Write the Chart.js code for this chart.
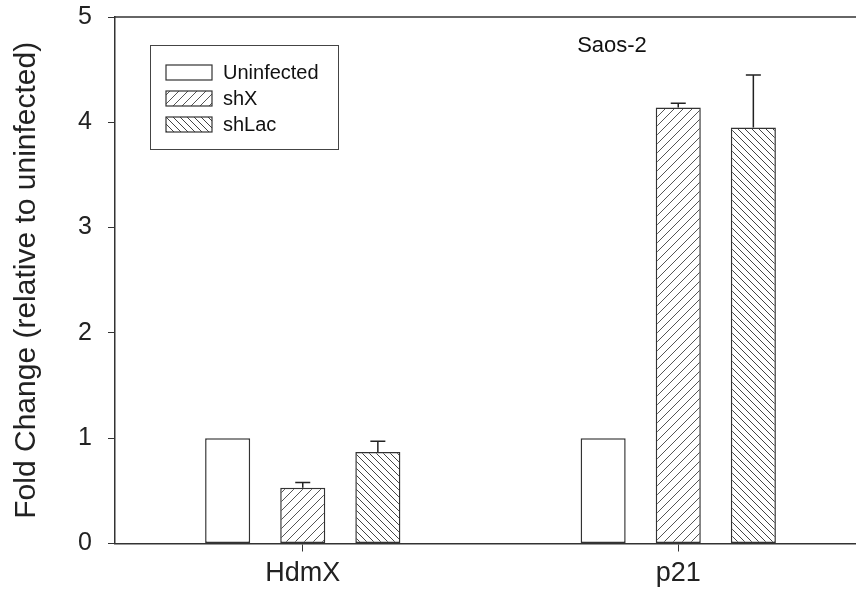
<!DOCTYPE html>
<html>
<head>
<meta charset="utf-8">
<script src="https://cdn.jsdelivr.net/npm/chart.js@4.4.1/dist/chart.umd.min.js"></script>
<style>
  html, body { margin: 0; padding: 0; background: #fff; overflow: hidden; }
  #wrap { width: 880px; height: 605px; position: relative; }
</style>
</head>
<body>
<div id="wrap"><canvas id="c" width="880" height="605"></canvas></div>
<script>
// ---- data ----
const categories = ['HdmX', 'p21'];
const seriesNames = ['Uninfected', 'shX', 'shLac'];
const uninfected = [1.0, 1.0];
const shX = [0.53, 4.14];
const shLac = [0.87, 3.95];
const uninfectedErr = [0, 0];
const shXErr = [0.05, 0.04];
const shLacErr = [0.10, 0.50];
const yTicks = [0, 1, 2, 3, 4, 5];
const panelTitle = 'Saos-2';
const yTitle = 'Fold Change (relative to uninfected)';

const FONT = '"Liberation Sans", Arial, Helvetica, sans-serif';
const INK = '#222';

function hatch(dir, period, color) {
  const c = document.createElement('canvas');
  c.width = period; c.height = period;
  const g = c.getContext('2d');
  g.fillStyle = '#fff';
  g.fillRect(0, 0, period, period);
  g.strokeStyle = color;
  g.lineWidth = 1;
  g.beginPath();
  if (dir === '/') {
    for (let k = -1; k <= 1; k++) {
      g.moveTo(k * period, period);
      g.lineTo(k * period + period, 0);
    }
  } else {
    for (let k = -1; k <= 1; k++) {
      g.moveTo(k * period, 0);
      g.lineTo(k * period + period, period);
    }
  }
  g.stroke();
  return g.createPattern(c, 'repeat');
}

const ctx = document.getElementById('c').getContext('2d');
const patX = hatch('/', 9, '#555');
const patL = hatch('\\', 7, '#444');

const errs = [uninfectedErr, shXErr, shLacErr];

const errorBarPlugin = {
  id: 'errbars',
  afterDatasetsDraw(chart) {
    const g = chart.ctx;
    const ys = chart.scales.y;
    g.save();
    g.strokeStyle = '#222';
    g.lineWidth = 1.5;
    chart.data.datasets.forEach((ds, i) => {
      const meta = chart.getDatasetMeta(i);
      meta.data.forEach((el, j) => {
        const e = errs[i][j];
        if (!e) return;
        const v = ds.data[j];
        const yTop = ys.getPixelForValue(v + e);
        const x = el.x;
        g.beginPath();
        g.moveTo(x, el.y);
        g.lineTo(x, yTop);
        g.moveTo(x - 7.5, yTop);
        g.lineTo(x + 7.5, yTop);
        g.stroke();
      });
    });
    g.restore();
  }
};

const framePlugin = {
  id: 'frame',
  afterDraw(chart) {
    const g = chart.ctx;
    const a = chart.chartArea;
    g.save();
    g.strokeStyle = '#333';
    g.lineWidth = 1.5;
    g.beginPath();
    g.moveTo(a.left, a.top);
    g.lineTo(a.right, a.top);
    g.stroke();
    // panel title
    g.fillStyle = '#111';
    g.font = '22px ' + FONT;
    g.textAlign = 'center';
    g.textBaseline = 'middle';
    g.fillText(panelTitle, 612, 46);
    // legend
    g.strokeStyle = '#444';
    g.lineWidth = 1;
    g.strokeRect(150.5, 45.5, 188, 104);
    const rows = [65, 91, 117];
    chart.data.datasets.forEach((ds, i) => {
      g.fillStyle = ds.backgroundColor;
      g.fillRect(166, rows[i], 46, 15);
      g.strokeStyle = '#333';
      g.lineWidth = 1.2;
      g.strokeRect(166, rows[i], 46, 15);
      g.fillStyle = '#111';
      g.font = '20px ' + FONT;
      g.textAlign = 'left';
      g.textBaseline = 'middle';
      g.fillText(ds.label, 223, rows[i] + 8);
    });
    g.restore();
  }
};

new Chart(ctx, {
  type: 'bar',
  data: {
    labels: categories,
    datasets: [
      { label: seriesNames[0], data: uninfected, backgroundColor: '#ffffff' },
      { label: seriesNames[1], data: shX, backgroundColor: patX },
      { label: seriesNames[2], data: shLac, backgroundColor: patL }
    ]
  },
  options: {
    responsive: false,
    animation: false,
    devicePixelRatio: 1,
    layout: { padding: { top: 17, right: 14, left: 0, bottom: 0 } },
    datasets: {
      bar: {
        borderColor: '#333',
        borderWidth: 1.5,
        borderSkipped: false,
        categoryPercentage: 0.6,
        barPercentage: 0.6
      }
    },
    plugins: {
      legend: { display: false },
      tooltip: { enabled: false },
      title: { display: false }
    },
    scales: {
      x: {
        grid: { drawOnChartArea: false, offset: false, tickLength: 8, color: '#333', lineWidth: 1 },
        border: { color: '#333', width: 1.5 },
        ticks: { color: INK, font: { family: FONT, size: 27 }, padding: 6 },
        afterFit(s) { s.height = 61.5; s.paddingLeft = 0; s.paddingRight = 0; }
      },
      y: {
        min: 0, max: 5,
        afterBuildTicks(s) { s.ticks = yTicks.map(v => ({ value: v })); },
        grid: { drawOnChartArea: false, tickLength: 7, color: '#333', lineWidth: 1 },
        border: { color: '#333', width: 1.5 },
        ticks: { color: INK, font: { family: FONT, size: 25 }, padding: 16 },
        title: { display: true, text: yTitle, color: INK, font: { family: FONT, size: 30 }, padding: { top: 9, bottom: 0 } },
        afterFit(s) { s.width = 115; s.paddingTop = 0; s.paddingBottom = 0; }
      }
    }
  },
  plugins: [errorBarPlugin, framePlugin]
});
</script>
</body>
</html>
